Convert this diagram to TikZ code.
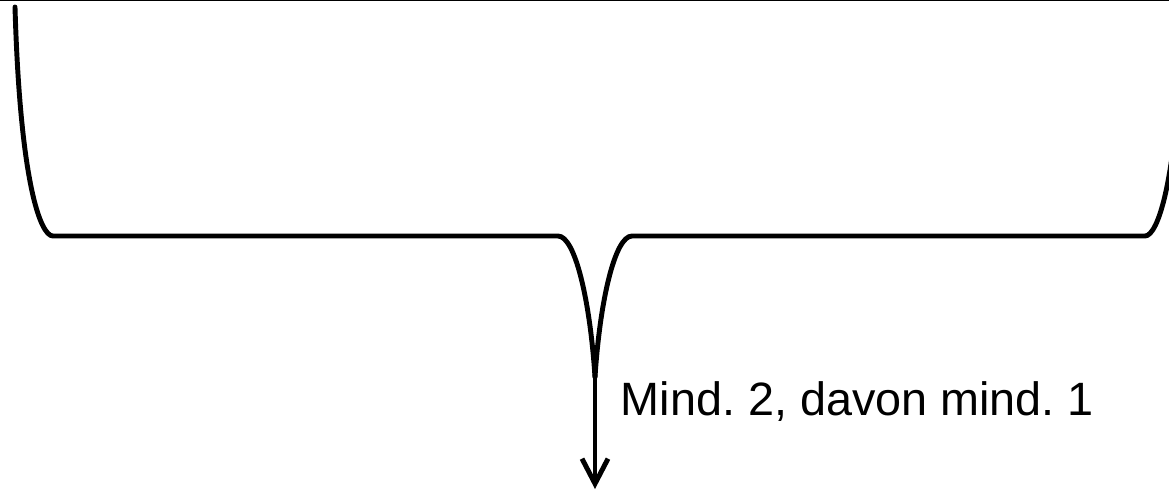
\documentclass[tikz,border=0pt]{standalone}
\usepackage{fontspec}
\setmainfont{Liberation Sans}
\usepackage{tikz}
\usetikzlibrary{arrows.meta}
\usetikzlibrary{calc}
\tikzstyle{brace} = [line width=1.4pt,line join=round,line cap=round]
\tikzstyle{arrow} = [line width=1.4pt,-{Straight Barb[length=2.5mm,width=2.6mm,line width=1.4pt]}]

\begin{document}
\frenchspacing
\begin{tikzpicture}[x=0.01cm,y=-0.01cm]
\useasboundingbox (0,0) rectangle (1169,493);
\clip (0,0) rectangle (1169,493);

\draw[line width=0.4pt] (0,0.6) -- (1169,0.6);

\coordinate (lend) at (15,7);
\coordinate (lcorner) at (53,236);
\coordinate (lmid) at (558,236);
\coordinate (tip) at (595,377);
\coordinate (rmid) at (632,236);
\coordinate (rcorner) at (1145,236);
\coordinate (rend) at (1183,7);
\coordinate (goal) at (595,489);

\draw[brace] (lend) .. controls (20,180) and (40,236) .. (lcorner)
	-- (lmid) .. controls (575,236) and (590,300) .. (tip);
\draw[brace] (rend) .. controls (1178,180) and (1158,236) .. (rcorner)
	-- (rmid) .. controls (615,236) and (600,300) .. (tip);
\draw[arrow] (tip) -- (goal);

\node[anchor=base west,inner sep=0pt,font=\fontsize{13.3pt}{16pt}\selectfont] (label) at (620,415) {Mind. 2, davon mind. 1};
\end{tikzpicture}
\end{document}
